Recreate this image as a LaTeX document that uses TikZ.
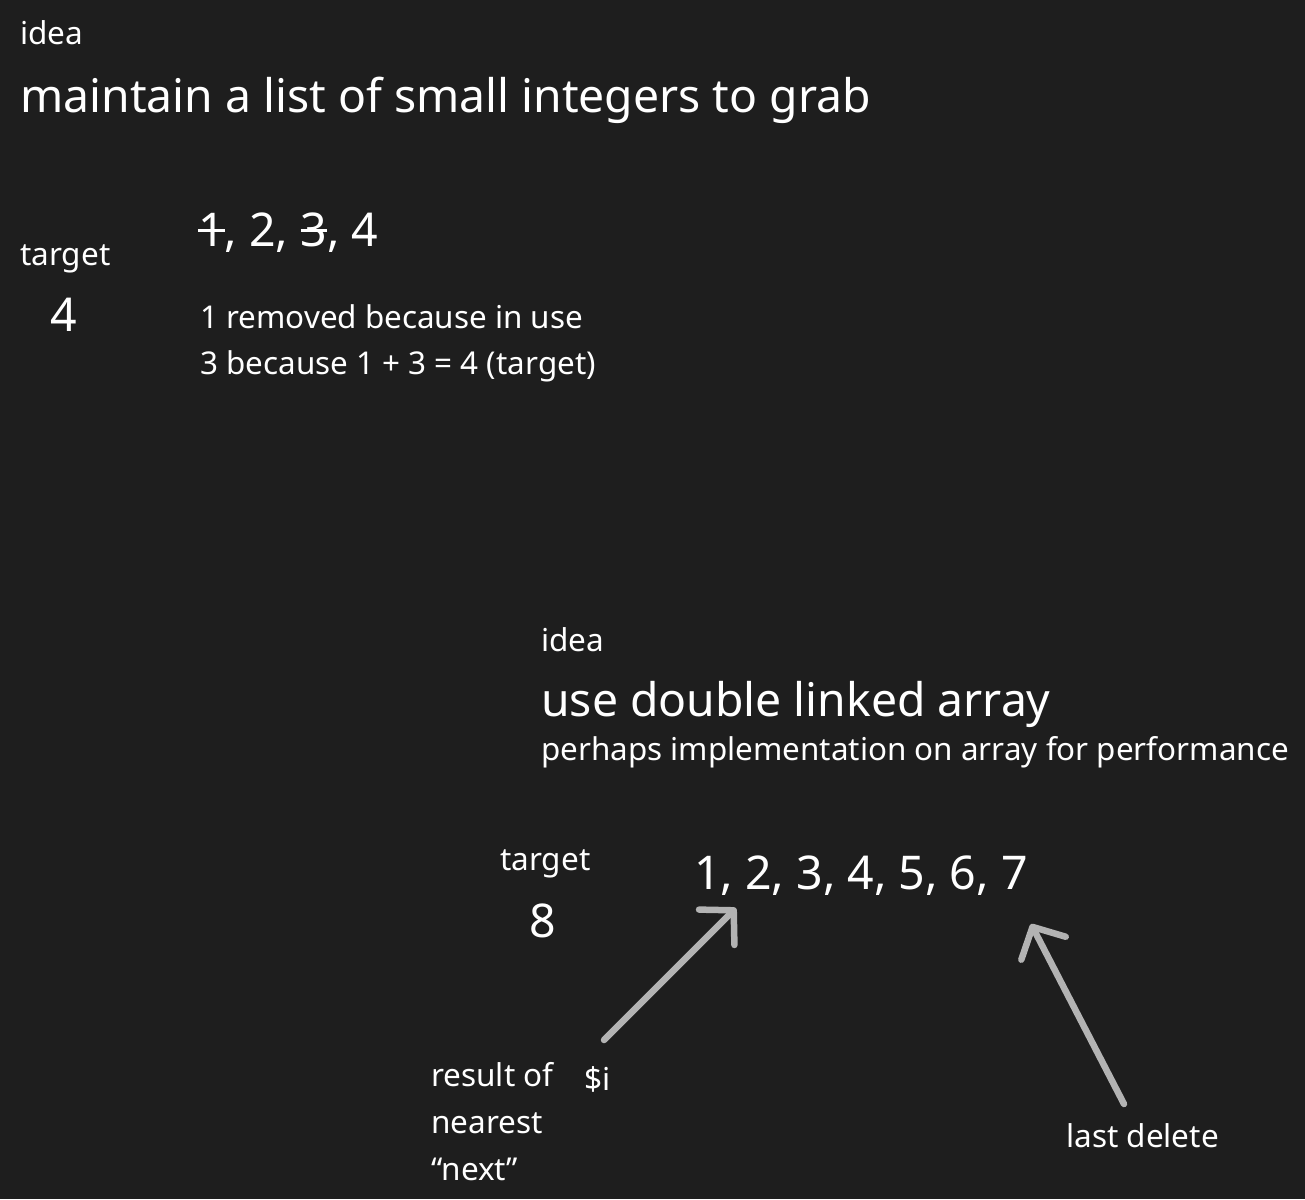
\documentclass[tikz,border=0pt]{standalone}
\usepackage{fontspec}
\setmainfont{Noto Sans}
\usepackage{tikz}
\usetikzlibrary{arrows.meta, positioning, calc}

\definecolor{bgdark}{HTML}{1E1E1E}
\definecolor{arrowgray}{HTML}{B3B3B3}

% strike a digit through its middle
\newcommand{\strk}[1]{\setbox0\hbox{#1}\rlap{\rule[0.31em]{\wd0}{0.065em}}\box0}

\begin{document}
\begin{tikzpicture}[x=1pt, y=-1pt, >={Straight Barb[length=24pt, width=50pt, round]},
            txt/.style={text=white, inner sep=0pt, anchor=base west},
            label/.style={txt, font=\fontsize{31.5}{36}\selectfont},
            head/.style={txt, font=\fontsize{46.3}{54}\selectfont},
            nums/.style={txt, font=\fontsize{46.5}{54}\selectfont},
            note/.style={txt, font=\fontsize{31.4}{36}\selectfont},
            pointer/.style={->, draw=arrowgray, line width=6.5pt, line cap=round}]

            \fill[bgdark] (0,0) rectangle (1305,1199);
            \useasboundingbox (0,0) rectangle (1305,1199);

            % first idea
            \node[label] (idea1) at (20,45) {idea};
            \node[head] (head1) at (20,112) {maintain a list of small integers to grab};
            \node[label] (target1) at (20,265) {target};
            \node[nums] (val1) at (50,331) {4};
            \node[nums] (list1) at (198,246) {\strk{1}, 2, \strk{3}, 4};
            \node[note] (why1) at (200,328) {1 removed because in use};
            \node[note] (why2) at (200,374) {3 because 1 + 3 = 4 (target)};

            % second idea
            \node[label] (idea2) at (541,651) {idea};
            \node[head] (head2) at (541,716) {use double linked array};
            \node[note] (sub2) at (541,760) {perhaps implementation on array for performance};
            \node[label] (target2) at (500,870) {target};
            \node[nums] (val2) at (529,937) {8};
            \node[nums] (list2) at (694,889) {1, 2, 3, 4, 5, 6, 7};
            \node[label] (res1) at (431,1086) {result of};
            \node[label] (res2) at (431,1133) {nearest};
            \node[label] (res3) at (431,1180) {“next”};
            \node[label] (ivar) at (584,1090) {\$i};
            \node[label] (last) at (1066,1147) {last delete};

            \coordinate (itail) at (604,1040);
            \coordinate (itip) at (736,908);
            \coordinate (ltail) at (1124,1104);
            \coordinate (ltip) at (1031,924);

            \draw[pointer] (itail) -- (itip);
            \draw[pointer] (ltail) -- (ltip);
        \end{tikzpicture}
\end{document}
